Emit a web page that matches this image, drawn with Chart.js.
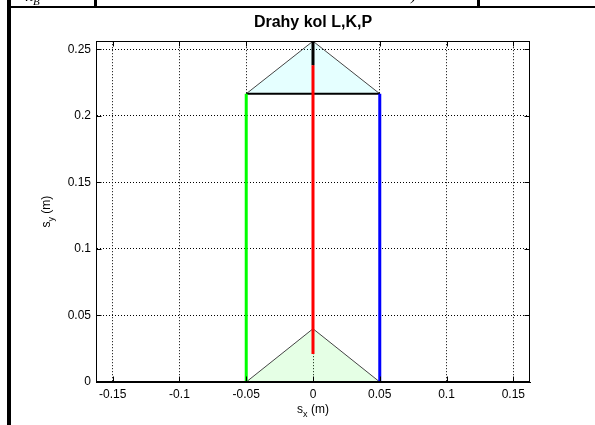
<!DOCTYPE html>
<html>
<head>
<meta charset="utf-8">
<script src="https://cdn.jsdelivr.net/npm/chart.js@4/dist/chart.umd.min.js"></script>
<style>
  html, body { margin: 0; padding: 0; background: #fff; }
  #wrap { position: relative; width: 595px; height: 425px; overflow: hidden; }
  #plot { position: absolute; left: 0; top: 0; }
  .rule { position: absolute; background: #000; }
  .cell { position: absolute; font: italic 16px "Liberation Serif", serif; color: #000; line-height: 16px; }
</style>
</head>
<body>
<div id="wrap">
  <canvas id="plot" width="595" height="425"></canvas>
  <!-- bits of the surrounding document table -->
  <div class="rule" style="left:7px; top:0; width:4px; height:425px;"></div>
  <div class="rule" style="left:7px; top:6px; width:588px; height:2px;"></div>
  <div class="rule" style="left:94px; top:0; width:3px; height:7px;"></div>
  <div class="rule" style="left:477px; top:0; width:3px; height:7px;"></div>
  <div class="cell" style="left:26px; top:-12px;">x<sub style="font-size:11px;">B</sub></div>
  <div class="cell" style="left:411px; top:-13px;">)</div>
</div>
<script>
// tick positions and labels
const xTicks = [-0.15, -0.1, -0.05, 0, 0.05, 0.1, 0.15];
const xTickLabels = ['-0.15', '-0.1', '-0.05', '0', '0.05', '0.1', '0.15'];
const yTicks = [0, 0.05, 0.1, 0.15, 0.2, 0.25];
const yTickLabels = ['0', '0.05', '0.1', '0.15', '0.2', '0.25'];

// wheel paths L, K, P
const leftX = [-0.05, -0.05];
const leftY = [0, 0.2165];
const rightX = [0.05, 0.05];
const rightY = [0, 0.2165];
const midX = [0, 0];
const midY = [0.021, 0.238];
const tipX = [0, 0];
const tipY = [0.238, 0.256];

// body outline at start and end
const barX = [-0.05, 0.05];
const barY = [0.2165, 0.2165];
const endTriX = [-0.05, 0, 0.05];
const endTriY = [0.2165, 0.256, 0.2165];
const startTriX = [-0.05, 0, 0.05];
const startTriY = [0, 0.04, 0];

const pts = (xs, ys) => xs.map((x, i) => ({ x, y: ys[i] }));

function seg(xs, ys, color, width) {
  return {
    data: pts(xs, ys),
    showLine: true,
    borderColor: color,
    borderWidth: width,
    pointRadius: 0,
    fill: false,
  };
}

function drawSubLabel(ctx, base, sub, rest, x, y, rot) {
  ctx.save();
  ctx.translate(x, y);
  ctx.rotate(rot);
  ctx.fillStyle = '#000';
  ctx.textBaseline = 'alphabetic';
  ctx.textAlign = 'left';
  const big = '12px "Liberation Sans", Arial, sans-serif';
  const small = '9px "Liberation Sans", Arial, sans-serif';
  ctx.font = big;
  const wb = ctx.measureText(base).width;
  const wr = ctx.measureText(rest).width;
  ctx.font = small;
  const ws = ctx.measureText(sub).width;
  let x0 = -(wb + ws + wr) / 2;
  ctx.font = big;
  ctx.fillText(base, x0, 0);
  ctx.font = small;
  ctx.fillText(sub, x0 + wb, 4);
  ctx.font = big;
  ctx.fillText(rest, x0 + wb + ws, 0);
  ctx.restore();
}

const axisLabels = {
  id: 'axisLabels',
  afterDraw(chart) {
    const { ctx, chartArea: a } = chart;
    drawSubLabel(ctx, 's', 'x', ' (m)', (a.left + a.right) / 2, a.bottom + 31, 0);
    drawSubLabel(ctx, 's', 'y', ' (m)', a.left - 46, (a.top + a.bottom) / 2, -Math.PI / 2);
  }
};

// matlab style box with inward ticks on all four sides
const frame = {
  id: 'frame',
  afterDraw(chart) {
    const { ctx, chartArea: a, scales: { x, y } } = chart;
    const L = Math.round(a.left) + 0.5, R = Math.round(a.right) - 0.5;
    const T = Math.round(a.top) + 0.5, B = Math.round(a.bottom) - 0.5;
    ctx.save();
    ctx.strokeStyle = '#000';
    ctx.lineWidth = 1;
    ctx.strokeRect(L, T, R - L, B - T);
    ctx.beginPath();
    xTicks.forEach(v => {
      const px = Math.round(x.getPixelForValue(v)) + 0.5;
      ctx.moveTo(px, B); ctx.lineTo(px, B - 5);
      ctx.moveTo(px, T); ctx.lineTo(px, T + 5);
    });
    yTicks.forEach(v => {
      const py = Math.round(y.getPixelForValue(v)) + 0.5;
      ctx.moveTo(L, py); ctx.lineTo(L + 5, py);
      ctx.moveTo(R, py); ctx.lineTo(R - 5, py);
    });
    ctx.stroke();
    ctx.restore();
  }
};

const tickFont = { family: '"Liberation Sans", Arial, sans-serif', size: 12 };

new Chart(document.getElementById('plot'), {
  type: 'scatter',
  data: {
    datasets: [
      seg(midX, midY, '#ff0000', 3),
      seg(tipX, tipY, '#000000', 3),
      seg(leftX, leftY, '#00ff00', 3),
      seg(rightX, rightY, '#0000ff', 3),
      seg(barX, barY, '#000000', 2),
      {
        data: pts(endTriX, endTriY),
        showLine: true,
        borderColor: '#444',
        borderWidth: 1,
        pointRadius: 0,
        backgroundColor: 'rgba(0, 255, 255, 0.1)',
        fill: { value: barY[0] },
      },
      {
        data: pts(startTriX, startTriY),
        showLine: true,
        borderColor: '#444',
        borderWidth: 1,
        pointRadius: 0,
        backgroundColor: 'rgba(0, 255, 0, 0.1)',
        fill: 'origin',
      },
    ],
  },
  options: {
    responsive: false,
    animation: false,
    layout: { padding: { left: 56, right: 65, top: 0, bottom: 13 } },
    plugins: {
      legend: { display: false },
      tooltip: { enabled: false },
      title: {
        display: true,
        text: 'Drahy kol L,K,P',
        fullSize: false,
        color: '#000',
        font: { family: '"Liberation Sans", Arial, sans-serif', size: 16, weight: 'bold', lineHeight: 1.2 },
        padding: { top: 13, bottom: 9 },
      },
    },
    scales: {
      x: {
        type: 'linear',
        min: -0.1625,
        max: 0.1625,
        afterBuildTicks: scale => { scale.ticks = xTicks.map(v => ({ value: v })); },
        afterFit: scale => { scale.height = 30; },
        ticks: {
          color: '#000',
          font: tickFont,
          padding: 5,
          maxRotation: 0,
          autoSkip: false,
          callback: (v, i) => xTickLabels[i],
        },
        grid: { color: '#000', lineWidth: 1, drawTicks: false },
        border: { display: true, color: '#000', dash: [1, 2] },
      },
      y: {
        type: 'linear',
        min: 0,
        max: 0.256,
        afterBuildTicks: scale => { scale.ticks = yTicks.map(v => ({ value: v })); },
        afterFit: scale => { scale.width = 40; },
        ticks: {
          color: '#000',
          font: tickFont,
          padding: 5,
          autoSkip: false,
          callback: (v, i) => yTickLabels[i],
        },
        grid: { color: '#000', lineWidth: 1, drawTicks: false },
        border: { display: true, color: '#000', dash: [1, 2] },
      },
    },
  },
  plugins: [axisLabels, frame],
});
</script>
</body>
</html>
